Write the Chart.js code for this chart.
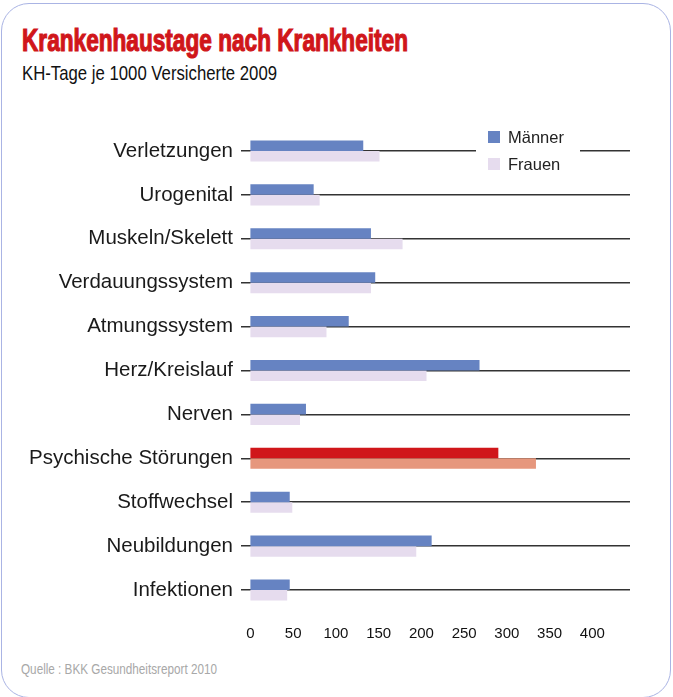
<!DOCTYPE html>
<html>
<head>
<meta charset="utf-8">
<script src="https://cdn.jsdelivr.net/npm/chart.js@4"></script>
<style>
    html, body { margin: 0; padding: 0; background: #fff; }
    body { width: 673px; height: 697px; position: relative; overflow: hidden; }
    .frame {
        position: absolute; left: 1px; top: 3px; width: 668px; height: 693px;
        border: 1.5px solid #aab4e4; border-radius: 28px;
    }
    .fit { position: absolute; white-space: nowrap; transform-origin: 0 0; }
    .title {
        left: 22px; top: 23px;
        font: bold 31px "Liberation Sans", Arial, sans-serif;
        color: #d0161a; -webkit-text-stroke: 1.2px #d0161a;
    }
    .subtitle {
        left: 22px; top: 61px;
        font: 21px "Liberation Sans", Arial, sans-serif;
        color: #111;
    }
    .source {
        left: 21px; top: 661px;
        font: 14px "Liberation Sans", Arial, sans-serif;
        color: #a8a8a8;
    }
    #chartWrap { position: absolute; left: 0; top: 0; width: 673px; height: 697px; }
</style>
</head>
<body>
<div class="frame"></div>
<div class="fit title" data-w="386">Krankenhaustage nach Krankheiten</div>
<div class="fit subtitle" data-w="255">KH-Tage je 1000 Versicherte 2009</div>
<div class="fit source" data-w="196">Quelle : BKK Gesundheitsreport 2010</div>
<div id="chartWrap"><canvas id="myBarChart"></canvas></div>

<script>
// data
const categories = ['Verletzungen', 'Urogenital', 'Muskeln/Skelett', 'Verdauungssystem',
    'Atmungssystem', 'Herz/Kreislauf', 'Nerven', 'Psychische Störungen',
    'Stoffwechsel', 'Neubildungen', 'Infektionen'];
const maenner = [132, 74, 141, 146, 115, 268, 65, 290, 46, 212, 46];
const frauen = [151, 81, 178, 141, 89, 206, 58, 334, 49, 194, 43];
const xTicks = [0, 50, 100, 150, 200, 250, 300, 350, 400];
const highlight = 'Psychische Störungen';

const blue = '#6683c2';
const lilac = '#e6dcee';

// squeeze the header texts to the condensed width of the original
document.querySelectorAll('.fit').forEach(el => {
    const w = el.getBoundingClientRect().width;
    el.style.transform = 'scaleX(' + (Number(el.dataset.w) / w) + ')';
});

function colorsFor(base, special) {
    return categories.map(c => c === highlight ? special : base);
}

// small legend box drawn inside the plot, on white
const boxLegend = {
    id: 'boxLegend',
    afterDraw(chart) {
        const ctx = chart.ctx;
        ctx.save();
        ctx.fillStyle = '#fff';
        ctx.fillRect(476, 126, 104, 50);
        chart.data.datasets.forEach((ds, i) => {
            const y = 137 + i * 27;
            ctx.fillStyle = ds.legendColor;
            ctx.fillRect(488, y - 6, 12, 12);
            ctx.fillStyle = '#222';
            ctx.font = '16.5px "Liberation Sans", Arial, sans-serif';
            ctx.textBaseline = 'middle';
            ctx.fillText(ds.label, 508, y + 1);
        });
        ctx.restore();
    }
};

function init() {
    const ctx = document.getElementById('myBarChart');
    if (!ctx) return;

    new Chart(ctx, {
        type: 'bar',
        data: {
            labels: categories,
            datasets: [{
                label: 'Männer',
                data: maenner,
                backgroundColor: colorsFor(blue, '#d0161a'),
                legendColor: blue,
                categoryPercentage: 0.48,
                barPercentage: 1
            }, {
                label: 'Frauen',
                data: frauen,
                backgroundColor: colorsFor(lilac, '#e6977d'),
                legendColor: lilac,
                categoryPercentage: 0.48,
                barPercentage: 1
            }]
        },
        options: {
            indexAxis: 'y',
            responsive: false,
            animation: false,
            layout: { padding: { left: 0, top: 129, right: 43, bottom: 45 } },
            plugins: {
                legend: { display: false },
                title: { display: false },
                tooltip: { enabled: false }
            },
            scales: {
                x: {
                    min: -11,
                    max: 444,
                    afterBuildTicks: s => { s.ticks = xTicks.map(v => ({ value: v })); },
                    afterFit: s => { s.height = 40; },
                    grid: { display: false, drawTicks: false },
                    border: { display: false },
                    ticks: {
                        padding: 13,
                        color: '#111',
                        font: { family: '"Liberation Sans", Arial, sans-serif', size: 15 }
                    }
                },
                y: {
                    z: 1,
                    afterFit: s => { s.width = 241; },
                    grid: {
                        offset: false,
                        drawTicks: false,
                        color: '#333',
                        lineWidth: 1.5
                    },
                    border: { display: false },
                    ticks: {
                        padding: 8,
                        color: '#1a1a1a',
                        font: { family: '"Liberation Sans", Arial, sans-serif', size: 20.5 }
                    }
                }
            }
        },
        plugins: [boxLegend]
    });
}

const cv = document.getElementById('myBarChart');
cv.width = 673;
cv.height = 697;
init();
</script>
</body>
</html>
